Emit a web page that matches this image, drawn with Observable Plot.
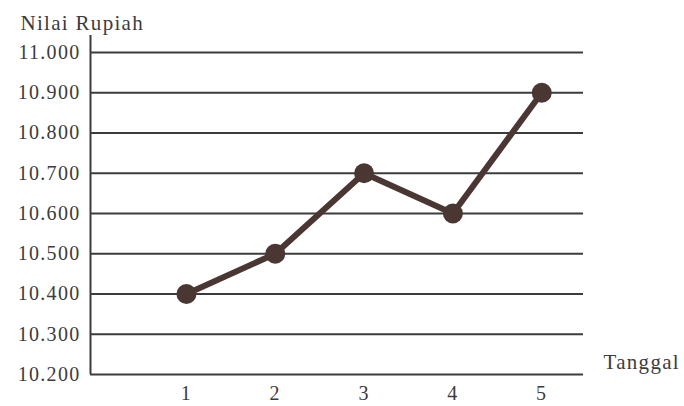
<!DOCTYPE html>
<html>
<head>
<meta charset="utf-8">
<script src="https://cdn.jsdelivr.net/npm/d3@7"></script>
<script src="https://cdn.jsdelivr.net/npm/@observablehq/plot@0.6"></script>
<style>
  html, body { margin: 0; padding: 0; background: #fff; }
  svg { display: block; }
  svg text { letter-spacing: 1.3px; }
</style>
</head>
<body>
<div id="chart"></div>
<script>
const tanggal = [1, 2, 3, 4, 5];
const nilai = [10400, 10500, 10700, 10600, 10900];
const yTicks = [10200, 10300, 10400, 10500, 10600, 10700, 10800, 10900, 11000];
const yTitle = "Nilai Rupiah";
const xTitle = "Tanggal";

const data = tanggal.map((t, i) => ({t, v: nilai[i]}));
const fmt = d => d3.format(",")(d).replace(/,/g, ".");
const ink = "#3c3c3c";
const lineColor = "#4a3632";

const chart = Plot.plot({
  width: 684,
  height: 406,
  marginLeft: 90,
  marginRight: 101,
  marginTop: 52,
  marginBottom: 32,
  style: {fontFamily: "'Liberation Serif', 'DejaVu Serif', serif", fontSize: "20px", color: ink, background: "#fff"},
  x: {domain: [-0.08, 5.47], ticks: tanggal, tickFormat: d => String(d), tickSize: 0, tickPadding: 11, label: null},
  y: {domain: [10200, 11000], ticks: yTicks, tickFormat: fmt, tickSize: 0, tickPadding: 10, label: null},
  marks: [
    Plot.ruleY(yTicks, {stroke: ink, strokeWidth: 2}),
    Plot.ruleX([-0.08], {y1: 10200, y2: 11042, stroke: ink, strokeWidth: 2}),
    Plot.line(data, {x: "t", y: "v", stroke: lineColor, strokeWidth: 6, strokeLinejoin: "round"}),
    Plot.dot(data, {x: "t", y: "v", r: 10, fill: lineColor, stroke: null}),
    Plot.text([yTitle], {frameAnchor: "top-left", dx: -70, dy: -37, textAnchor: "start", fontSize: 21, fill: ink}),
    Plot.text([xTitle], {frameAnchor: "bottom-right", dx: 20, dy: -6, textAnchor: "start", fontSize: 21, fill: ink})
  ]
});
document.getElementById("chart").appendChild(chart);
</script>
</body>
</html>
